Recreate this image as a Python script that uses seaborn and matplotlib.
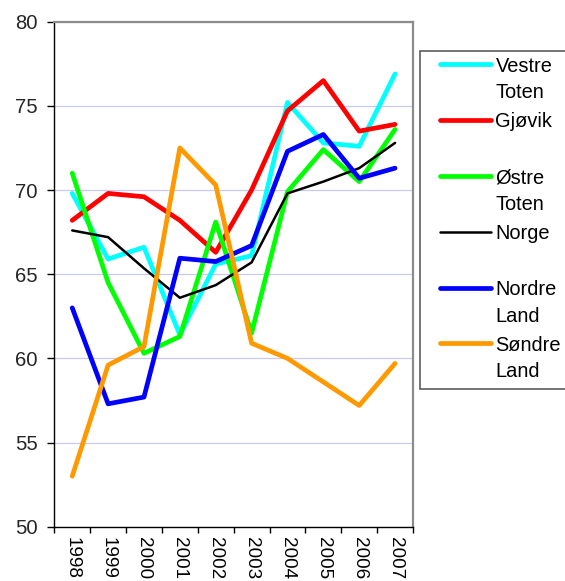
import matplotlib
matplotlib.use("Agg")
import matplotlib.pyplot as plt
import seaborn as sns
import pandas as pd
from matplotlib.lines import Line2D
from matplotlib.patches import Rectangle

years = ["1998", "1999", "2000", "2001", "2002", "2003", "2004", "2005", "2006", "2007"]

vestre_toten = [69.8, 65.9, 66.6, 61.4, 65.6, 66.1, 75.2, 72.8, 72.6, 76.9]
gjovik = [68.2, 69.8, 69.6, 68.2, 66.3, 70.0, 74.7, 76.5, 73.5, 73.9]
ostre_toten = [71.0, 64.5, 60.3, 61.3, 68.1, 61.5, 69.9, 72.4, 70.5, 73.6]
norge = [67.6, 67.2, 65.35, 63.6, 64.35, 65.7, 69.8, 70.5, 71.3, 72.8]
nordre_land = [63.0, 57.3, 57.7, 65.95, 65.75, 66.7, 72.3, 73.3, 70.7, 71.3]
sondre_land = [53.0, 59.6, 60.7, 72.5, 70.3, 60.9, 60.0, 58.6, 57.2, 59.7]

series_names = ["Vestre Toten", "Gjøvik", "Østre Toten", "Norge", "Nordre Land", "Søndre Land"]
series_values = [vestre_toten, gjovik, ostre_toten, norge, nordre_land, sondre_land]
series_colors = ["#00ffff", "#ff0000", "#00ff00", "#000000", "#0000ff", "#ff9900"]
series_widths = [3.4, 3.4, 3.4, 1.8, 3.4, 3.4]

rows = []
for name, vals in zip(series_names, series_values):
    for i, (yr, v) in enumerate(zip(years, vals)):
        rows.append({"series": name, "pos": i, "year": yr, "value": v})
df = pd.DataFrame(rows)

sns.set_theme(style="white")
plt.rcParams["font.family"] = ["Liberation Sans", "DejaVu Sans"]

W, H = 565, 581
fig = plt.figure(figsize=(W / 100, H / 100), dpi=100)
fig.patch.set_facecolor("white")

x0, x1, ytop, ybot = 54.3, 413.0, 21.7, 526.7
ax = fig.add_axes([x0 / W, 1 - ybot / H, (x1 - x0) / W, (ybot - ytop) / H])
ax.set_facecolor("white")

for name, color, lw in zip(series_names, series_colors, series_widths):
    sns.lineplot(data=df[df["series"] == name], x="pos", y="value", color=color,
                 linewidth=lw, ax=ax, legend=False, solid_capstyle="round",
                 solid_joinstyle="round", zorder=3)

ax.set_xlim(-0.5, len(years) - 0.5)
ax.set_ylim(50, 80)
ax.set_yticks(range(50, 81, 5))
ax.yaxis.grid(True, color="#c8c8f4", linewidth=0.9)
ax.set_axisbelow(True)
ax.set_xlabel("")
ax.set_ylabel("")

ax.set_xticks(range(len(years)))
ax.set_xticklabels(years, rotation=270, ha="center", va="top")
ax.set_xticks([i - 0.5 for i in range(len(years) + 1)], minor=True)
ax.tick_params(axis="x", which="major", length=0, pad=7.5, labelsize=13.6, colors="black")
ax.tick_params(axis="x", which="minor", length=4.5, width=1.0, color="black", bottom=True)
ax.tick_params(axis="y", which="major", length=5, width=1.0, color="black",
               pad=7, labelsize=14.6, left=True)

for side in ("left", "bottom"):
    ax.spines[side].set_color("black")
    ax.spines[side].set_linewidth(1.0)
for side in ("top", "right"):
    ax.spines[side].set_color("#8c8c8c")
    ax.spines[side].set_linewidth(1.6)
    ax.spines[side].set_visible(True)


def fx(px):
    return px / W


def fy(py):
    return 1 - py / H


# legend box
lx0, ly0, lx1, ly1 = 420.0, 51.0, 566.0, 389.0
fig.add_artist(Rectangle((fx(lx0), fy(ly1)), fx(lx1) - fx(lx0), fy(ly0) - fy(ly1),
                         transform=fig.transFigure, facecolor="white",
                         edgecolor="#505050", linewidth=1.1, zorder=5))

first_y = 64.3
step = 55.8
line_gap = 26.7
for k, (name, color, lw) in enumerate(zip(series_names, series_colors, series_widths)):
    yc = first_y + k * step
    fig.add_artist(Line2D([fx(440), fx(491)], [fy(yc), fy(yc)], transform=fig.transFigure,
                          color=color, linewidth=lw, solid_capstyle="round", zorder=6))
    for j, part in enumerate(name.split(" ")):
        fig.text(fx(495.5), fy(yc + 7.3 + j * line_gap), part, fontsize=14.4,
                 color="black", ha="left", va="baseline", zorder=7)

fig.savefig("out.png", dpi=100, facecolor="white")
